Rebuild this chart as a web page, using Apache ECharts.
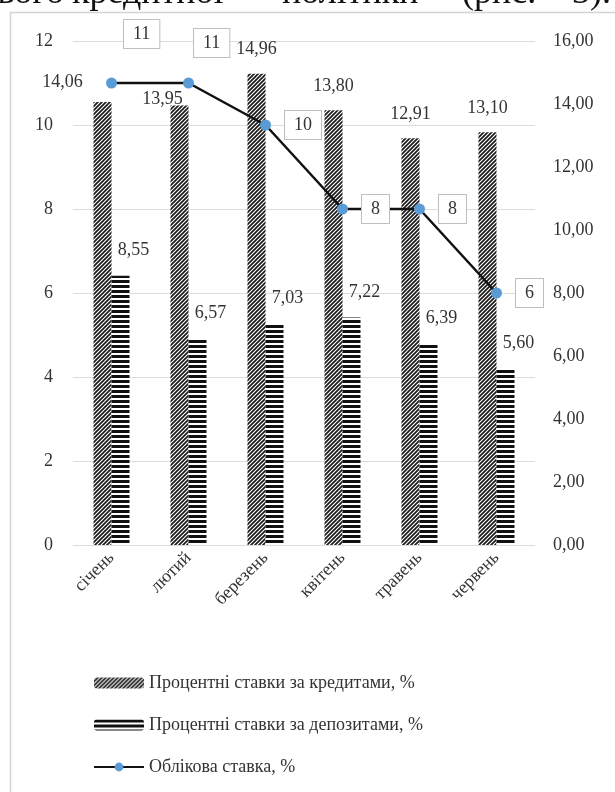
<!DOCTYPE html>
<html>
<head>
<meta charset="utf-8">
<title>ECharts</title>
<script src="https://cdn.jsdelivr.net/npm/echarts@6/dist/echarts.min.js"></script>
</head>
<body style="margin:0;background:#fff">
<div id="main" style="width:615px;height:792px;"></div>
<script type="text/javascript">
    var months = ['січень', 'лютий', 'березень', 'квітень', 'травень', 'червень'];
    var loanRates = [14.06, 13.95, 14.96, 13.80, 12.91, 13.10];
    var depositRates = [8.55, 6.57, 7.03, 7.22, 6.39, 5.60];
    var discountRate = [11, 11, 10, 8, 8, 6];
    var leftAxis = {min: 0, max: 12, interval: 2};
    var rightAxis = {min: 0, max: 16, interval: 2};
    var seriesNames = ['Процентні ставки за кредитами, %', 'Процентні ставки за депозитами, %', 'Облікова ставка, %'];

    var serif = 'Liberation Serif';
    var txt = '#333';

    function comma(v) {
        return v.toFixed(2).replace('.', ',');
    }

    // diagonal hatch for loans
    function diagPattern() {
        var c = document.createElement('canvas');
        c.width = 4; c.height = 4;
        var g = c.getContext('2d');
        g.fillStyle = '#fff';
        g.fillRect(0, 0, 4, 4);
        g.strokeStyle = '#1a1a1a';
        g.lineWidth = 1.7;
        g.beginPath();
        g.moveTo(-1, 5); g.lineTo(5, -1);
        g.moveTo(-1, 1); g.lineTo(1, -1);
        g.moveTo(3, 5); g.lineTo(5, 3);
        g.stroke();
        return c;
    }

    // horizontal stripes for deposits
    function stripePattern() {
        var c = document.createElement('canvas');
        c.width = 4; c.height = 5;
        var g = c.getContext('2d');
        g.fillStyle = '#fff';
        g.fillRect(0, 0, 4, 5);
        g.fillStyle = '#111';
        g.fillRect(0, 0, 4, 3);
        return c;
    }

    // hand placed labels like in the original figure
    var loanOffsets = [[-40, -6], [-17, 8], [0, -10], [0, -10], [0, -10], [0, -10]];
    var lineOffsets = [[-7, -49], [-14, -40], [0, 0], [0, 0], [0, 0], [0, 0]];

    var loanData = loanRates.map(function (v, i) {
        return {value: v, label: {offset: loanOffsets[i]}};
    });
    var lineData = discountRate.map(function (v, i) {
        return {value: v, label: {offset: lineOffsets[i]}};
    });

    // cut-off line of the page text above the figure
    var headFont = '36px "Liberation Serif"';
    function headWord(t, x, align) {
        return {type: 'text', x: x, y: 12, silent: true,
            style: {text: t, font: headFont, fill: '#111', align: align || 'left', verticalAlign: 'bottom'}};
    }

    var myChart = echarts.init(document.getElementById('main'));
    var option = {
        backgroundColor: '#fff',
        animation: false,
        textStyle: {fontFamily: serif},
        graphic: [
            {type: 'rect', shape: {x: 10.5, y: 12.5, width: 640, height: 800},
                style: {fill: 'none', stroke: '#d4d4d4', lineWidth: 1.5}},
            headWord('нового', 64, 'right'),
            headWord('кредитної', 72),
            headWord('політики', 282),
            headWord('(рис.', 462),
            headWord('3).', 572)
        ],
        grid: {left: 73, right: 80, top: 41, bottom: 247},
        legend: {
            orient: 'vertical',
            left: 88,
            top: 669,
            itemGap: 24,
            itemWidth: 50,
            itemHeight: 11,
            data: seriesNames,
            textStyle: {fontFamily: serif, fontSize: 18, color: txt}
        },
        xAxis: {
            type: 'category',
            data: months,
            axisLine: {show: false},
            axisTick: {show: false},
            axisLabel: {rotate: 45, margin: 10, fontFamily: serif, fontSize: 18, color: txt}
        },
        yAxis: [{
            type: 'value',
            min: leftAxis.min, max: leftAxis.max, interval: leftAxis.interval,
            axisLine: {show: false},
            axisTick: {show: false},
            splitLine: {lineStyle: {color: '#dcdcdc', width: 1}},
            axisLabel: {margin: 20, fontFamily: serif, fontSize: 18, color: txt}
        }, {
            type: 'value',
            min: rightAxis.min, max: rightAxis.max, interval: rightAxis.interval,
            axisLine: {show: false},
            axisTick: {show: false},
            splitLine: {show: false},
            axisLabel: {margin: 18, fontFamily: serif, fontSize: 18, color: txt, formatter: comma}
        }],
        series: [{
            name: seriesNames[0],
            type: 'bar',
            yAxisIndex: 1,
            barWidth: 18,
            barGap: '0%',
            itemStyle: {color: {image: diagPattern(), repeat: 'repeat'}},
            label: {
                show: true, position: 'top', distance: 5,
                fontFamily: serif, fontSize: 18, color: txt,
                formatter: function (p) { return comma(p.value); }
            },
            data: loanData
        }, {
            name: seriesNames[1],
            type: 'bar',
            yAxisIndex: 1,
            barWidth: 18,
            barGap: '0%',
            itemStyle: {color: {image: stripePattern(), repeat: 'repeat'}},
            label: {
                show: true, position: 'top', distance: 5, offset: [13, -11],
                fontFamily: serif, fontSize: 18, color: txt,
                formatter: function (p) { return comma(p.value); }
            },
            data: depositRates
        }, {
            name: seriesNames[2],
            type: 'line',
            yAxisIndex: 0,
            z: 5,
            symbol: 'circle',
            symbolSize: 11,
            lineStyle: {color: '#111', width: 2.5},
            itemStyle: {color: '#5b9bd5'},
            label: {
                show: true, position: 'right', distance: 14,
                fontFamily: serif, fontSize: 18, color: txt,
                backgroundColor: '#fff',
                borderColor: '#bfbfbf', borderWidth: 1,
                padding: [6, 9, 4, 9]
            },
            data: lineData
        }]
    };
    myChart.setOption(option);
</script>
</body>
</html>
